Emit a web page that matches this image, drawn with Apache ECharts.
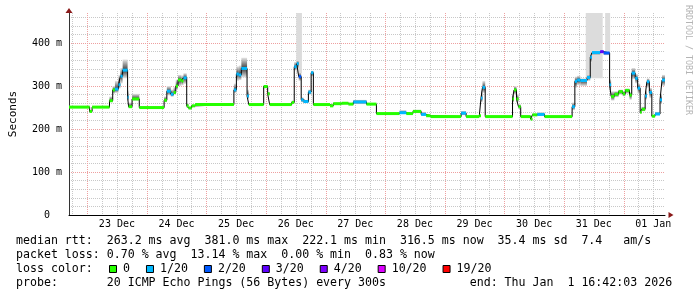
<!DOCTYPE html>
<html>
<head>
<meta charset="utf-8">
<script src="https://cdn.jsdelivr.net/npm/echarts@6/dist/echarts.min.js"></script>
<style>
html,body{margin:0;padding:0;background:#fff;}
#chart{width:697px;height:297px;}
</style>
</head>
<body>
<div id="chart"></div>
<script>
// ---- time frame: hours since 22 Dec 00:00 ----
const windowStart = 16.7;   // 22 Dec 16:42
const windowEnd = 256.7;    // 01 Jan 16:42

// ---- x axis labels (placed at noon of each day) ----
const dayLabels = ['23 Dec','24 Dec','25 Dec','26 Dec','27 Dec','28 Dec','29 Dec','30 Dec','31 Dec','01 Jan'];
const dayLabelHours = [36,60,84,108,132,156,180,204,228,252];
const midnightHours = [24,48,72,96,120,144,168,192,216,240];
const sixHourHours = [18,30,36,42,54,60,66,78,84,90,102,108,114,126,132,138,150,156,162,174,180,186,198,204,210,222,228,234,246,252];

// ---- y axis ----
const yMax = 470;
const yLabelValues = [0,100,200,300,400];

// ---- median rtt (ms) as steps: start hour of each step ----
const segStart = [16.7,25.0,26.0,33.0,34.3,35.2,36.6,37.4,38.3,40.3,
  40.7,42.1,45.0,55.0,56.1,57.7,58.8,59.7,60.6,62.0,
  62.8,64.1,64.8,66.1,67.5,83.1,84.1,85.1,86.1,88.4,
  89.1,95.1,96.7,97.5,106.4,107.4,108.4,109.2,110.2,111.1,
  113.1,114.2,115.1,121.8,123.1,126.5,129.2,131.2,136.5,140.5,
  149.8,152.5,155.2,158.5,160.5,162.3,174.6,176.6,181.9,182.6,
  183.2,184.3,195.3,195.9,196.9,197.7,198.6,202.6,203.3,205.3,
  208.2,219.3,220.4,221.3,222.6,225.3,226.6,227.3,230.6,232.0,
  234.4,235.0,236.3,238.0,239.7,240.7,242.4,243.3,244.7,245.7,
  246.7,247.3,248.7,249.4,250.4,251.4,252.7,254.7,255.5];
const dataEnd = 256.7;
const segMedian = [251,241,251,266,291,293,303,323,337,274,
  252,270,250,267,288,281,285,300,314,312,
  319,254,249,254,257,291,328,326,341,277,
  257,299,282,257,262,345,352,322,268,264,
  286,331,257,254,259,260,258,263,258,236,
  238,236,241,234,231,229,237,229,231,272,
  297,229,270,291,270,252,229,223,233,234,
  229,252,311,314,313,320,367,378,380,377,
  303,276,281,287,282,290,279,330,318,295,
  239,246,277,310,285,230,235,268,314];
// lost pings out of 20 per step
const segLoss = [0,0,0,0,0,1,1,1,1,1,
  0,0,0,0,1,1,0,0,0,0,
  1,0,0,0,0,1,1,1,1,1,
  0,0,0,0,0,1,1,2,1,1,
  1,1,0,0,0,0,0,1,0,0,
  1,0,0,1,0,0,1,0,0,1,
  1,0,0,0,0,0,0,0,0,1,
  0,1,1,1,1,1,1,1,3,2,
  1,0,0,0,0,0,0,1,1,1,
  0,0,1,1,1,0,1,1,1];
// smoke (spread of the 20 pings)
const smokeLo = [249,239,249,262,282,284,294,306,318,266,
  249,266,248,262,278,275,280,292,300,302,
  305,250,247,252,255,284,312,314,320,270,
  255,294,278,255,259,336,340,312,262,260,
  280,322,255,252,257,258,256,258,256,234,
  235,234,237,231,229,227,232,227,229,262,
  284,227,262,280,262,246,227,220,231,231,
  227,244,296,302,300,312,355,372,376,372,
  288,266,274,280,276,282,268,316,306,282,
  236,241,268,296,272,228,232,258,300];
const smokeHi = [254,244,253,276,300,312,326,342,362,290,
  262,282,252,276,300,292,298,315,326,325,
  330,260,252,257,259,306,346,348,366,292,
  259,302,286,259,266,356,360,332,274,268,
  292,336,259,256,262,262,260,268,260,238,
  244,238,245,240,233,231,242,231,233,290,
  312,231,282,300,282,258,231,226,236,239,
  231,262,322,324,318,326,372,381,383,380,
  316,288,288,292,288,294,286,342,328,306,
  244,252,290,318,296,233,240,282,326];

// ---- periods with heavy ping loss (grey columns) ----
const lossBarStart = [108.2,224.8,232.6];
const lossBarEnd = [110.5,231.6,234.6];
const lossBarFloor = [330,318,372];

// ---- loss colour legend ----
const lossNames = ['0','1/20','2/20','3/20','4/20','10/20','19/20'];
const lossThresholds = [0,1,2,3,4,10,19];
const lossColors = ['#26ff00','#00b8ff','#0059ff','#5e00ff','#7e00ff','#dd00ff','#ff0000'];

// ---- summary text ----
const summaryLines = [
  'median rtt:  263.2 ms avg  381.0 ms max  222.1 ms min  316.5 ms now  35.4 ms sd  7.4   am/s',
  'packet loss: 0.70 % avg  13.14 % max  0.00 % min  0.83 % now',
  'loss color:',
  'probe:       20 ICMP Echo Pings (56 Bytes) every 300s            end: Thu Jan  1 16:42:03 2026'
];

// ================= build =================
const MONO = 'DejaVu Sans Mono';
const MAJOR_COLOR = '#eea0a0';
const MINOR_COLOR = '#c8c8c8';
function bucketOf(n){let b=0;for(let i=0;i<lossThresholds.length;i++){if(n>=lossThresholds[i])b=i;}return b;}
function segEnd(i){return i+1<segStart.length?segStart[i+1]:dataEnd;}

const smokeData = segStart.map((t,i)=>[t,segEnd(i),smokeLo[i],smokeHi[i],segMedian[i]]);
const lineData = segStart.map((t,i)=>[t,segMedian[i]]);
lineData.push([dataEnd,segMedian[segMedian.length-1]]);
const lossBarData = lossBarStart.map((s,i)=>[s,lossBarEnd[i],lossBarFloor[i],yMax]);
const vGridData = midnightHours.map(h=>[h,1]).concat(sixHourHours.map(h=>[h,0]));

const chart = echarts.init(document.getElementById('chart'),null,{renderer:'canvas'});

const lossSeries = lossNames.map((name,k)=>({
  type:'custom', name:name, z:4, silent:true,
  itemStyle:{color:lossColors[k]},
  data: segStart.map((t,i)=>[t,segEnd(i),segMedian[i],segLoss[i]]).filter(r=>bucketOf(r[3])===k),
  renderItem:function(params,api){
    const p0=api.coord([api.value(0),api.value(2)]);
    const p1=api.coord([api.value(1),api.value(2)]);
    return {type:'rect',shape:{x:p0[0],y:p0[1]-1.5,width:p1[0]-p0[0],height:3},style:{fill:api.visual('color')}};
  }
}));

const option = {
  animation:false,
  backgroundColor:'#ffffff',
  grid:{left:66,right:32,top:13,bottom:82,containLabel:false},
  xAxis:[{
    type:'value', min:windowStart, max:windowEnd,
    axisLine:{show:true,lineStyle:{color:'#000',width:1}},
    axisTick:{show:false},
    splitLine:{show:false},
    axisLabel:{
      customValues:dayLabelHours,
      formatter:function(v){const i=dayLabelHours.indexOf(v);return i>=0?dayLabels[i]:'';},
      fontFamily:MONO,fontSize:10,color:'#000',margin:4
    }
  },{
    type:'value', min:windowStart, max:windowEnd, position:'bottom',
    axisLine:{show:true,symbol:['none','triangle'],symbolSize:[6,5],symbolOffset:[0,6],lineStyle:{color:'#8b1a1a',width:0}},
    axisTick:{show:false},axisLabel:{show:false},splitLine:{show:false}
  }],
  yAxis:[{
    type:'value', min:0, max:yMax, interval:20,
    name:'Seconds', nameLocation:'middle', nameGap:50, nameRotate:90,
    nameTextStyle:{fontFamily:MONO,fontSize:11,color:'#000'},
    axisLine:{show:true,lineStyle:{color:'#333',width:1}},
    axisTick:{show:false},
    axisLabel:{
      formatter:function(v){if(yLabelValues.indexOf(v)<0)return '';return v===0?'0  ':v+' m';},
      fontFamily:MONO,fontSize:10,color:'#000',margin:7
    },
    splitLine:{show:true,showMinLine:false,showMaxLine:false,lineStyle:{color:MINOR_COLOR,type:[1,1],width:1}}
  },{
    type:'value', min:0, max:yMax, interval:100, position:'left',
    axisLine:{show:true,symbol:['none','triangle'],symbolSize:[7,5],symbolOffset:[0,2.5],lineStyle:{color:'#8b1a1a',width:0}},
    axisTick:{show:false},axisLabel:{show:false},
    splitLine:{show:true,showMinLine:false,showMaxLine:false,lineStyle:{color:MAJOR_COLOR,type:[1,1],width:1}}
  }],
  legend:{
    data:lossNames, left:109, top:263, padding:0,
    icon:'rect', itemWidth:7, itemHeight:7, itemGap:16,
    itemStyle:{borderColor:'#000',borderWidth:1},
    textStyle:{fontFamily:MONO,fontSize:11.6,color:'#000',padding:[0,0,0,1.5]},
    selectedMode:false
  },
  series:[
    {type:'custom',name:'time grid',z:0,silent:true,data:vGridData,
     renderItem:function(params,api){
       const top=api.coord([api.value(0),yMax]);
       const bot=api.coord([api.value(0),0]);
       const x=Math.round(top[0])+0.5;
       return {type:'line',shape:{x1:x,y1:top[1],x2:x,y2:bot[1]-1},
         style:{stroke:api.value(1)?MAJOR_COLOR:MINOR_COLOR,lineWidth:1,lineDash:[1,1]}};
     }},
    {type:'custom',name:'loss period',z:1,silent:true,data:lossBarData,
     renderItem:function(params,api){
       const a=api.coord([api.value(0),api.value(3)]);
       const b=api.coord([api.value(1),api.value(2)]);
       return {type:'rect',shape:{x:a[0],y:a[1],width:b[0]-a[0],height:b[1]-a[1]},style:{fill:'#dcdcdc'}};
     }},
    {type:'custom',name:'smoke',z:2,silent:true,data:smokeData,
     renderItem:function(params,api){
       const a=api.coord([api.value(0),api.value(3)]);
       const b=api.coord([api.value(1),api.value(2)]);
       const c=api.coord([api.value(0),api.value(4)]);
       const h=b[1]-a[1];
       if(!(h>0))return null;
       const f=Math.min(1,Math.max(0,(c[1]-a[1])/h));
       return {type:'rect',shape:{x:a[0],y:a[1],width:b[0]-a[0],height:h},
         style:{fill:new echarts.graphic.LinearGradient(0,0,0,1,[
           {offset:0,color:'#e6e6e6'},{offset:f,color:'#3a3a3a'},{offset:1,color:'#e6e6e6'}])}};
     }},
    {type:'line',name:'median',z:3,silent:true,step:'end',data:lineData,
     showSymbol:false,symbol:'none',lineStyle:{color:'#000',width:1}}
  ].concat(lossSeries),
  graphic:[
    {type:'text',x:16,y:241,silent:true,style:{text:summaryLines[0],font:'11.6px "DejaVu Sans Mono"',fill:'#000',textVerticalAlign:'middle',verticalAlign:'middle'}},
    {type:'text',x:16,y:255,silent:true,style:{text:summaryLines[1],font:'11.6px "DejaVu Sans Mono"',fill:'#000',textVerticalAlign:'middle',verticalAlign:'middle'}},
    {type:'text',x:16,y:269,silent:true,style:{text:summaryLines[2],font:'11.6px "DejaVu Sans Mono"',fill:'#000',textVerticalAlign:'middle',verticalAlign:'middle'}},
    {type:'text',x:16,y:283,silent:true,style:{text:summaryLines[3],font:'11.6px "DejaVu Sans Mono"',fill:'#000',textVerticalAlign:'middle',verticalAlign:'middle'}},
    {type:'text',x:688,y:60,rotation:-Math.PI/2,silent:true,style:{text:'RRDTOOL / TOBI OETIKER',font:'8.3px "DejaVu Sans Mono"',fill:'#b4b4b4',textAlign:'center',align:'center',textVerticalAlign:'middle',verticalAlign:'middle'}}
  ]
};
chart.setOption(option);
</script>
</body>
</html>
